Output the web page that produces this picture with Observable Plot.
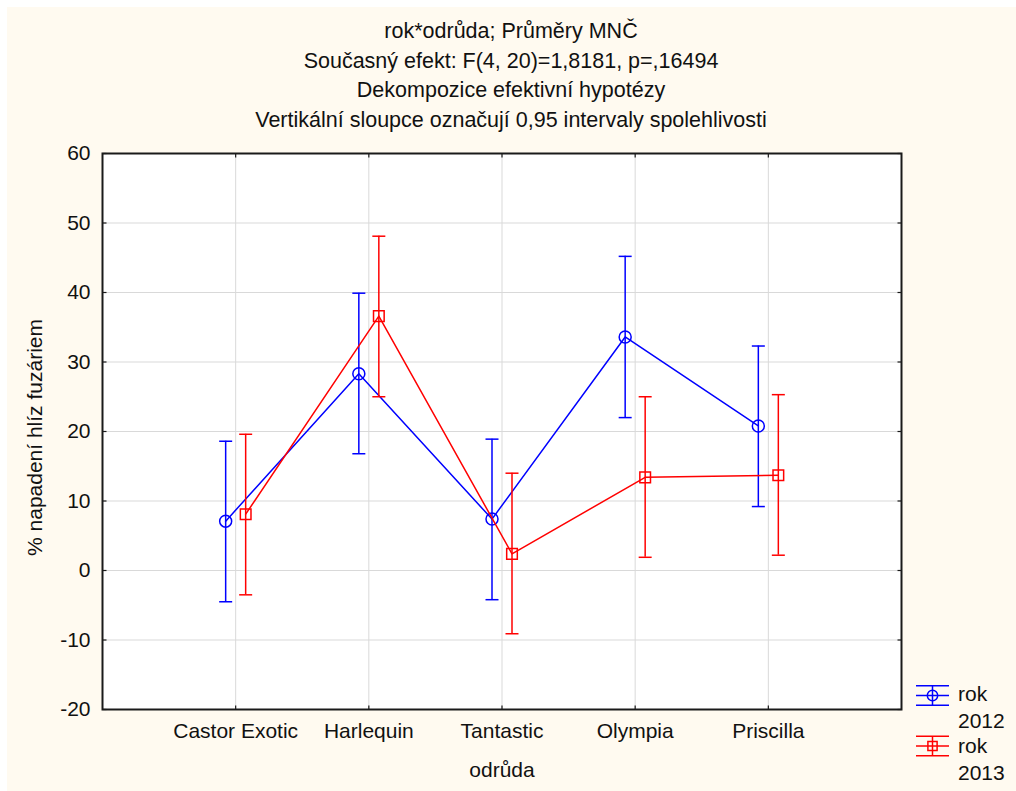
<!DOCTYPE html>
<html>
<head>
<meta charset="utf-8">
<script src="https://cdn.jsdelivr.net/npm/d3@7"></script>
<script src="https://cdn.jsdelivr.net/npm/@observablehq/plot@0.6"></script>
<style>
  html, body { margin: 0; padding: 0; background: #ffffff; }
  #wrap { position: relative; width: 1016px; height: 791px; overflow: hidden; }
  #cream { position: absolute; left: 7px; top: 7px; right: 0; bottom: 0; background: #FFFAF0; }
  #chart { position: absolute; left: 0; top: 0; }
  #legend { position: absolute; left: 0; top: 0; }
</style>
</head>
<body>
<div id="wrap">
  <div id="cream"></div>
  <div id="chart"></div>
  <svg id="legend" width="1016" height="791"></svg>
</div>
<script>
const categories = ["Castor Exotic", "Harlequin", "Tantastic", "Olympia", "Priscilla"];
const mean2012 = [7.1, 28.3, 7.4, 33.6, 20.8];
const low2012  = [-4.5, 16.8, -4.2, 22.0, 9.2];
const high2012 = [18.6, 39.9, 18.9, 45.2, 32.3];
const mean2013 = [8.1, 36.6, 2.4, 13.4, 13.7];
const low2013  = [-3.5, 25.0, -9.1, 1.9, 2.2];
const high2013 = [19.6, 48.1, 14.0, 25.0, 25.3];
const yTicks = [-20, -10, 0, 10, 20, 30, 40, 50, 60];
const titleLines = [
  "rok*odrůda; Průměry MNČ",
  "Současný efekt: F(4, 20)=1,8181, p=,16494",
  "Dekompozice efektivní hypotézy",
  "Vertikální sloupce označují 0,95 intervaly spolehlivosti"
];
const seriesNames = ["rok\n2012", "rok\n2013"];
const xLabel = "odrůda";
const yLabel = "% napadení hlíz fuzáriem";

const BLUE = "#0000FF", RED = "#FF0000";
const FONT = "'Liberation Sans', Arial, sans-serif";
const FS = 21;

const d2012 = categories.map((c, i) => ({pos: i + 1, cat: c, mean: mean2012[i], lo: low2012[i], hi: high2012[i]}));
const d2013 = categories.map((c, i) => ({pos: i + 1, cat: c, mean: mean2013[i], lo: low2013[i], hi: high2013[i]}));
const xTicks = categories.map((c, i) => i + 1);

// custom symbols
const hbar = {draw(ctx, size) { const w = Math.sqrt(size) / 2; ctx.moveTo(-w, 0); ctx.lineTo(w, 0); }};
const tickUp = {draw(ctx, size) { ctx.moveTo(0, 0); ctx.lineTo(0, -Math.sqrt(size)); }};
const tickDown = {draw(ctx, size) { ctx.moveTo(0, 0); ctx.lineTo(0, Math.sqrt(size)); }};
const tickRight = {draw(ctx, size) { ctx.moveTo(0, 0); ctx.lineTo(Math.sqrt(size), 0); }};
const tickLeft = {draw(ctx, size) { ctx.moveTo(0, 0); ctx.lineTo(-Math.sqrt(size), 0); }};
const capR = 13 / Math.sqrt(Math.PI);
const tickR = 4 / Math.sqrt(Math.PI);

function series(data, color, off, symbol) {
  return [
    Plot.line(data, {x: "pos", y: "mean", dx: off, stroke: color, strokeWidth: 1.5}),
    Plot.ruleX(data, {x: "pos", y1: "lo", y2: "hi", dx: off, stroke: color, strokeWidth: 1.5}),
    Plot.dot(data, {x: "pos", y: "lo", dx: off, symbol: hbar, r: capR, stroke: color, strokeWidth: 1.5}),
    Plot.dot(data, {x: "pos", y: "hi", dx: off, symbol: hbar, r: capR, stroke: color, strokeWidth: 1.5}),
    Plot.dot(data, {x: "pos", y: "mean", dx: off, symbol, r: 6, stroke: color, fill: "none", strokeWidth: 1.5})
  ];
}

const chart = Plot.plot({
  width: 1016,
  height: 791,
  marginLeft: 102,
  marginRight: 115,
  marginTop: 153,
  marginBottom: 82,
  style: {background: "transparent", fontFamily: FONT, overflow: "visible"},
  x: {domain: [0, 6], axis: null},
  y: {domain: [-20, 60], axis: null},
  marks: [
    Plot.frame({fill: "white", stroke: "none"}),
    Plot.ruleX(xTicks, {stroke: "#d9d9d9", strokeWidth: 1}),
    Plot.ruleY(yTicks.slice(1, -1), {stroke: "#d9d9d9", strokeWidth: 1}),
    Plot.frame({stroke: "#1a1a1a", strokeWidth: 2}),
    Plot.dot(xTicks, {x: d => d, y: () => -20, symbol: tickUp, r: tickR, stroke: "#1a1a1a", strokeWidth: 1.2}),
    Plot.dot(xTicks, {x: d => d, y: () => 60, symbol: tickDown, r: tickR, stroke: "#1a1a1a", strokeWidth: 1.2}),
    Plot.dot(yTicks, {x: () => 0, y: d => d, symbol: tickRight, r: tickR, stroke: "#1a1a1a", strokeWidth: 1.2}),
    Plot.dot(yTicks, {x: () => 6, y: d => d, symbol: tickLeft, r: tickR, stroke: "#1a1a1a", strokeWidth: 1.2}),
    Plot.axisY(yTicks, {tickSize: 0, tickPadding: 12, fontSize: FS, fill: "#111", ticks: yTicks, tickFormat: d => String(d), label: null}),
    Plot.axisX(xTicks, {tickSize: 0, tickPadding: 14, fontSize: FS, fill: "#111", ticks: xTicks, tickFormat: d => categories[d - 1], label: null}),
    Plot.text([xLabel], {frameAnchor: "bottom", lineAnchor: "middle", textAnchor: "middle", dy: 61, fontSize: FS, fill: "#111"}),
    Plot.text([yLabel], {frameAnchor: "left", lineAnchor: "middle", textAnchor: "middle", dx: -67, dy: 6, rotate: -90, fontSize: FS, fill: "#111"}),
    ...titleLines.map((t, i) => Plot.text([t], {frameAnchor: "top", lineAnchor: "middle", textAnchor: "middle", dx: 9, dy: -122 + i * 29.5, fontSize: 21.5, fill: "#111"})),
    ...series(d2012, BLUE, -10, "circle"),
    ...series(d2013, RED, 10, "square")
  ]
});
document.getElementById("chart").appendChild(chart);

// legend
const lg = d3.select("#legend");
const items = [
  {name: seriesNames[0], color: BLUE, symbol: d3.symbolCircle, cy: 695.5, ty: 694},
  {name: seriesNames[1], color: RED, symbol: d3.symbolSquare, cy: 746, ty: 746}
];
items.forEach(it => {
  const g = lg.append("g").attr("stroke", it.color).attr("stroke-width", 1.5).attr("fill", "none");
  [-9.7, 0, 9.7].forEach(o => g.append("line").attr("x1", 916).attr("x2", 949).attr("y1", it.cy + o).attr("y2", it.cy + o));
  g.append("line").attr("x1", 932.5).attr("x2", 932.5).attr("y1", it.cy - 9.7).attr("y2", it.cy + 9.7);
  g.append("path").attr("transform", `translate(932.5,${it.cy})`).attr("d", d3.symbol(it.symbol, 36 * Math.PI * 0.75)());
  const t = lg.append("text").attr("x", 958).attr("y", it.ty).attr("font-family", FONT).attr("font-size", FS).attr("fill", "#111");
  it.name.split("\n").forEach((s, k) => t.append("tspan").attr("x", 958).attr("dy", k === 0 ? "0.35em" : "1.25em").text(s));
});
</script>
</body>
</html>
